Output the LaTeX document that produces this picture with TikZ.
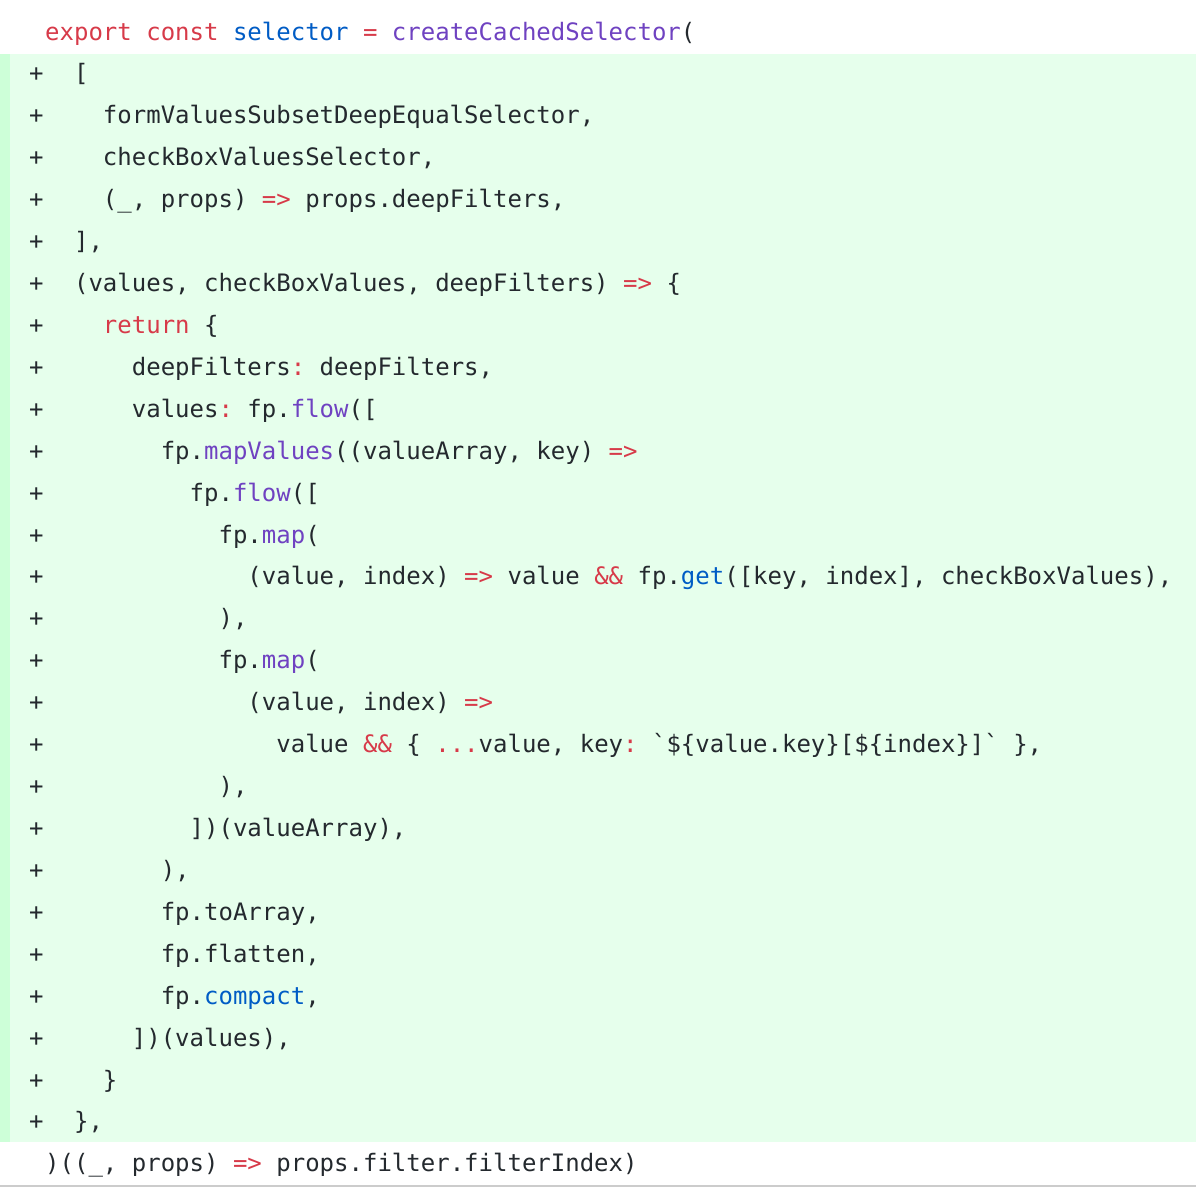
\documentclass[tikz,border=0pt]{standalone}
\usepackage{fontspec}
\setmonofont{DejaVu Sans Mono}
\definecolor{bgg}{HTML}{E6FFEC}
\definecolor{strip}{HTML}{CDFFD8}
\definecolor{kw}{HTML}{D73A49}
\definecolor{bl}{HTML}{005CC5}
\definecolor{pu}{HTML}{6F42C1}
\definecolor{tx}{HTML}{24292E}
\newcommand{\Rd}[1]{\textcolor{kw}{#1}}
\newcommand{\Bl}[1]{\textcolor{bl}{#1}}
\newcommand{\Pu}[1]{\textcolor{pu}{#1}}
\tikzset{code/.style={anchor=base west,inner sep=0pt,font=\ttfamily\fontsize{24}{24}\selectfont,text=tx},
plus/.style={code}}
\begin{document}
\begin{tikzpicture}[x=1pt,y=-1pt]
\useasboundingbox[fill=white] (0,0) rectangle (1196,1200);
\fill[bgg] (0,54) rectangle (1196,1142);
\fill[strip] (0,54) rectangle (10,1142);
\draw[gray!40,line width=1.5pt] (0,1186) -- (1196,1186);
\def\L#1{40+41.92*#1}
\node[code] (l0) at (45,{\L{0}}) {\Rd{export} \Rd{const} \Bl{selector} \Rd{=} \Pu{createCachedSelector}(};
\foreach \i in {1,...,26} {\node[plus] (p\i) at (29,{\L{\i}}) {+};}
\node[code] (l1) at (45,{\L{1}}) {\ \ [};
\node[code] (l2) at (45,{\L{2}}) {\ \ \ \ formValuesSubsetDeepEqualSelector,};
\node[code] (l3) at (45,{\L{3}}) {\ \ \ \ checkBoxValuesSelector,};
\node[code] (l4) at (45,{\L{4}}) {\ \ \ \ (\_, props) \Rd{=>} props.deepFilters,};
\node[code] (l5) at (45,{\L{5}}) {\ \ ],};
\node[code] (l6) at (45,{\L{6}}) {\ \ (values, checkBoxValues, deepFilters) \Rd{=>} \{};
\node[code] (l7) at (45,{\L{7}}) {\ \ \ \ \Rd{return} \{};
\node[code] (l8) at (45,{\L{8}}) {\ \ \ \ \ \ deepFilters\Rd{:} deepFilters,};
\node[code] (l9) at (45,{\L{9}}) {\ \ \ \ \ \ values\Rd{:} fp.\Pu{flow}([};
\node[code] (l10) at (45,{\L{10}}) {\ \ \ \ \ \ \ \ fp.\Pu{mapValues}((valueArray, key) \Rd{=>}};
\node[code] (l11) at (45,{\L{11}}) {\ \ \ \ \ \ \ \ \ \ fp.\Pu{flow}([};
\node[code] (l12) at (45,{\L{12}}) {\ \ \ \ \ \ \ \ \ \ \ \ fp.\Pu{map}(};
\node[code] (l13) at (45,{\L{13}}) {\ \ \ \ \ \ \ \ \ \ \ \ \ \ (value, index) \Rd{=>} value \Rd{\&\&} fp.\Bl{get}([key, index], checkBoxValues),};
\node[code] (l14) at (45,{\L{14}}) {\ \ \ \ \ \ \ \ \ \ \ \ ),};
\node[code] (l15) at (45,{\L{15}}) {\ \ \ \ \ \ \ \ \ \ \ \ fp.\Pu{map}(};
\node[code] (l16) at (45,{\L{16}}) {\ \ \ \ \ \ \ \ \ \ \ \ \ \ (value, index) \Rd{=>}};
\node[code] (l17) at (45,{\L{17}}) {\ \ \ \ \ \ \ \ \ \ \ \ \ \ \ \ value \Rd{\&\&} \{ \Rd{...}value, key\Rd{:} \textasciigrave\$\{value.key\}[\$\{index\}]\textasciigrave\ \},};
\node[code] (l18) at (45,{\L{18}}) {\ \ \ \ \ \ \ \ \ \ \ \ ),};
\node[code] (l19) at (45,{\L{19}}) {\ \ \ \ \ \ \ \ \ \ ])(valueArray),};
\node[code] (l20) at (45,{\L{20}}) {\ \ \ \ \ \ \ \ ),};
\node[code] (l21) at (45,{\L{21}}) {\ \ \ \ \ \ \ \ fp.toArray,};
\node[code] (l22) at (45,{\L{22}}) {\ \ \ \ \ \ \ \ fp.flatten,};
\node[code] (l23) at (45,{\L{23}}) {\ \ \ \ \ \ \ \ fp.\Bl{compact},};
\node[code] (l24) at (45,{\L{24}}) {\ \ \ \ \ \ ])(values),};
\node[code] (l25) at (45,{\L{25}}) {\ \ \ \ \}};
\node[code] (l26) at (45,{\L{26}}) {\ \ \},};
\node[code] (l27) at (45,{\L{27}}) {)((\_, props) \Rd{=>} props.filter.filterIndex)};
\end{tikzpicture}
\end{document}
